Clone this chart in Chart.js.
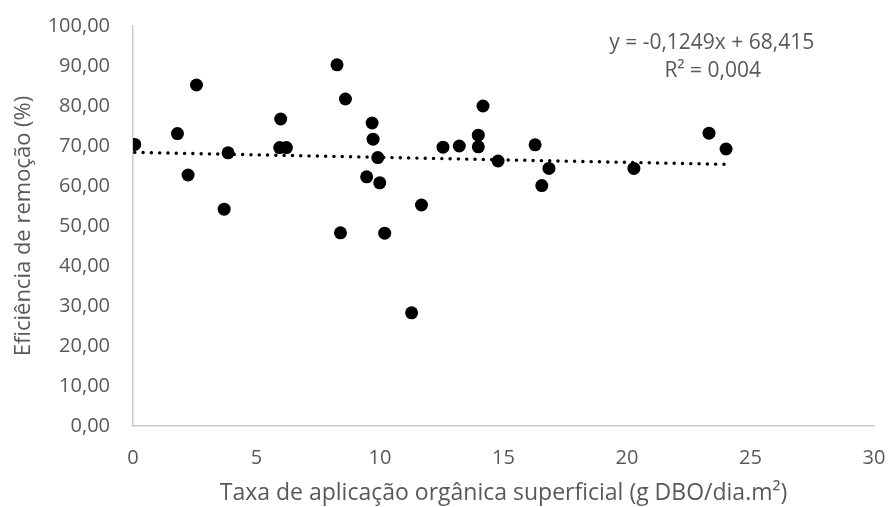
<!DOCTYPE html>
<html>
<head>
<meta charset="utf-8">
<script src="https://cdn.jsdelivr.net/npm/chart.js@4.4.1/dist/chart.umd.min.js"></script>
<style>
    html, body { margin: 0; padding: 0; background: #fff; }
    #wrap { width: 888px; height: 507px; }
</style>
</head>
<body>
<div id="wrap"><canvas id="chart" width="888" height="507"></canvas></div>
<script>
// taxa de aplicação orgânica superficial (g DBO/dia.m²)
const taxaAplicacao = [0.07, 1.80, 2.57, 2.23, 3.85, 3.69, 5.98, 5.94, 6.21, 8.26, 8.60, 8.40,
    9.68, 9.72, 9.91, 9.46, 9.99, 10.19, 11.68, 11.28, 12.55, 13.21, 13.98, 13.98,
    14.17, 14.78, 16.28, 16.84, 16.55, 20.28, 23.32, 24.01];
// eficiência de remoção (%)
const eficiencia = [70.4, 73.1, 85.25, 62.75, 68.3, 54.2, 76.75, 69.6, 69.6, 90.3, 81.75, 48.3,
    75.75, 71.7, 67.1, 62.3, 60.8, 48.2, 55.25, 28.3, 69.7, 70.0, 72.7, 69.8,
    80.0, 66.25, 70.3, 64.4, 60.1, 64.4, 73.2, 69.25];

// linha de tendência (equação mostrada no gráfico)
const trendSlope = -0.1249;
const trendIntercept = 68.415;
const trendLabels = ['y = -0,1249x + 68,415', 'R² = 0,004'];

const pontos = taxaAplicacao.map((x, i) => ({ x: x, y: eficiencia[i] }));
const xMin = Math.min(...taxaAplicacao);
const xMax = Math.max(...taxaAplicacao);
const tendencia = [xMin, xMax].map(x => ({ x: x, y: trendSlope * x + trendIntercept }));

const textColor = '#595959';
const fontFamily = '"Open Sans", sans-serif';

const equationPlugin = {
    id: 'equation',
    afterDraw(chart) {
        const ctx = chart.ctx;
        const area = chart.chartArea;
        ctx.save();
        ctx.fillStyle = textColor;
        ctx.font = '21px ' + fontFamily;
        ctx.textAlign = 'center';
        ctx.textBaseline = 'middle';
        const cx = area.left + (area.right - area.left) * 0.781;
        ctx.fillText(trendLabels[0], cx, area.top + 17);
        ctx.fillText(trendLabels[1], cx + 1, area.top + 45);
        ctx.restore();
    }
};

new Chart(document.getElementById('chart'), {
    type: 'scatter',
    data: {
        datasets: [
            {
                label: 'Eficiência',
                data: pontos,
                backgroundColor: '#000',
                borderWidth: 0,
                pointRadius: 6.5,
                pointHoverRadius: 6.5
            },
            {
                type: 'line',
                label: 'Linear',
                data: tendencia,
                borderColor: '#000',
                borderWidth: 3.4,
                borderDash: [0.1, 8.2],
                borderCapStyle: 'round',
                pointRadius: 0,
                fill: false
            }
        ]
    },
    options: {
        responsive: false,
        animation: false,
        layout: { padding: { top: 26, right: 14, left: 0, bottom: 0 } },
        plugins: {
            legend: { display: false },
            tooltip: { enabled: false }
        },
        scales: {
            x: {
                type: 'linear',
                min: 0,
                max: 30,
                afterFit(scale) {
                    scale.height = 81;
                    scale.paddingLeft = 0;
                    scale.paddingRight = 0;
                },
                border: { display: true, color: '#cccccc', width: 1.5 },
                grid: { display: false, drawTicks: false },
                ticks: {
                    stepSize: 5,
                    padding: 20,
                    color: textColor,
                    font: { family: fontFamily, size: 20 }
                },
                title: {
                    display: true,
                    text: 'Taxa de aplicação orgânica superficial (g DBO/dia.m²)',
                    color: textColor,
                    font: { family: fontFamily, size: 23 },
                    padding: { top: 0, bottom: 0 }
                }
            },
            y: {
                min: 0,
                max: 100,
                afterFit(scale) {
                    scale.width = 133;
                    scale.paddingTop = 0;
                    scale.paddingBottom = 0;
                },
                border: { display: true, color: '#cccccc', width: 1.5 },
                grid: { display: false, drawTicks: false },
                ticks: {
                    stepSize: 10,
                    padding: 23,
                    color: textColor,
                    font: { family: fontFamily, size: 20 },
                    callback: v => v.toFixed(2).replace('.', ',')
                },
                title: {
                    display: true,
                    text: 'Eficiência de remoção (%)',
                    color: textColor,
                    font: { family: fontFamily, size: 22 },
                    padding: { top: 11, bottom: 0 }
                }
            }
        }
    },
    plugins: [equationPlugin]
});
</script>
</body>
</html>
